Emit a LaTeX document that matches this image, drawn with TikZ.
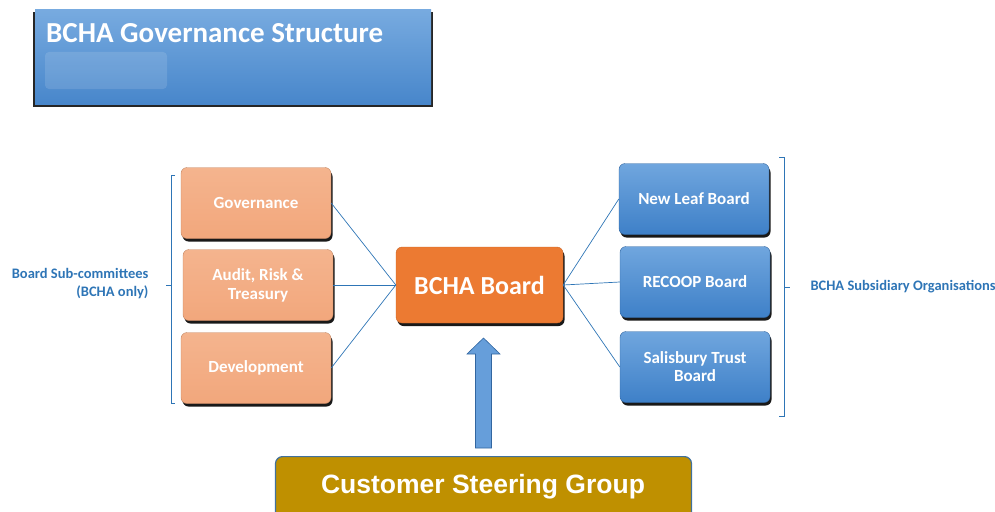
\documentclass[tikz,border=0pt]{standalone}
\usepackage{fontspec}
\setmainfont{Carlito}
\newfontfamily\arialfont{Liberation Sans}
\usetikzlibrary{shadows}
\definecolor{lblue}{HTML}{2E75B6}
\definecolor{orbox}{HTML}{F2A77C}
\definecolor{orboxtop}{HTML}{F4B48E}
\definecolor{boardor}{HTML}{EC7A32}
\definecolor{bltop}{HTML}{70A6DE}
\definecolor{blbot}{HTML}{3E80C8}
\definecolor{gold}{HTML}{BF9000}
\definecolor{goldedge}{HTML}{41719C}
\tikzset{
  shad/.style={drop shadow={shadow xshift=1.5pt,shadow yshift=-3pt,fill=black,opacity=0.9}},
  subbox/.style={rounded corners=6pt,top color=orboxtop,bottom color=orbox,draw=orbox!80!black,line width=0.4pt,shad,
    minimum width=150pt,minimum height=71pt,align=center,text=white,font=\bfseries\fontsize{17}{19}\selectfont},
  orgbox/.style={rounded corners=6pt,top color=bltop,bottom color=blbot,draw=blbot!80!black,line width=0.4pt,shad,
    minimum width=150pt,minimum height=71pt,align=center,text=white,font=\bfseries\fontsize{17}{18}\selectfont},
  link/.style={draw=lblue,line width=0.7pt},
  lbl/.style={text=lblue,font=\bfseries\fontsize{14.5}{18}\selectfont},
  brace/.style={draw=lblue,line width=0.8pt}
}
\begin{document}
\begin{tikzpicture}[x=1pt,y=-1pt]
\useasboundingbox (0,0) rectangle (995,511);
% title
\fill[black!85] (33,12) rectangle (433,107);
\shade[top color=bltop!95!white,bottom color=blbot!95!white] (35,10) rectangle (431,104);
\fill[white,opacity=0.12,rounded corners=4pt] (45,52) rectangle (167,89);
\node[anchor=base west,text=white,font=\bfseries\fontsize{29}{32}\selectfont,inner sep=0] (title) at (46,42.5) {BCHA Governance Structure};
% left boxes
\node[subbox] (gov) at (256,203) {Governance};
\node[subbox] (aud) at (258,285) {Audit, Risk \&\\Treasury};
\node[subbox] (dev) at (256,368) {Development};
% board
\node[rounded corners=6pt,fill=boardor,draw=boardor!85!black,shad,minimum width=167pt,minimum height=76pt,text=white,font=\bfseries\fontsize{26}{30}\selectfont] (board) at (479.5,285) {BCHA Board};
% right boxes
\node[orgbox] (nl) at (694,199) {New Leaf Board};
\node[orgbox] (rc) at (695,282) {RECOOP Board};
\node[orgbox] (sb) at (695,367) {Salisbury Trust\\Board};
% links
\draw[link] (gov.east) -- (board.west);
\draw[link] (aud.east) -- (board.west);
\draw[link] (dev.east) -- (board.west);
\draw[link] (board.east) -- (nl.west);
\draw[link] (board.east) -- (rc.west);
\draw[link] (board.east) -- (sb.west);
% braces
\coordinate (lb1) at (175,175);
\coordinate (lb2) at (175,403);
\draw[brace] (lb1) -- ++(-4,0) -- (171,285) -- ++(-5,0) (171,285) -- (171,403) -- (lb2);
\coordinate (rb1) at (779,157);
\coordinate (rb2) at (779,416);
\draw[brace] (rb1) -- ++(5,0) -- (784,287) -- ++(6,0) (784,287) -- (784,416) -- (rb2);
\node[lbl,anchor=east,align=right] (sublbl) at (152,284) {Board Sub-committees\\(BCHA only)};
\node[lbl,anchor=west] (orglbl) at (807,287) {BCHA Subsidiary Organisations};
% customer steering group
\node[rounded corners=7pt,fill=gold,draw=goldedge,line width=1.2pt,minimum width=416pt,minimum height=62pt,anchor=north] (csg) at (483.5,456) {};
\node[text=white,font=\arialfont\bfseries\fontsize{26.5}{30}\selectfont] (csgt) at (483,487) {Customer Steering Group};
% arrow
\draw[fill=bltop!80!blbot,draw=blbot!80!black,line width=0.6pt] (475.5,448) -- (475.5,354) -- (467,354) -- (483.5,338) -- (500,354) -- (491.5,354) -- (491.5,448) -- cycle;
\end{tikzpicture}
\end{document}
